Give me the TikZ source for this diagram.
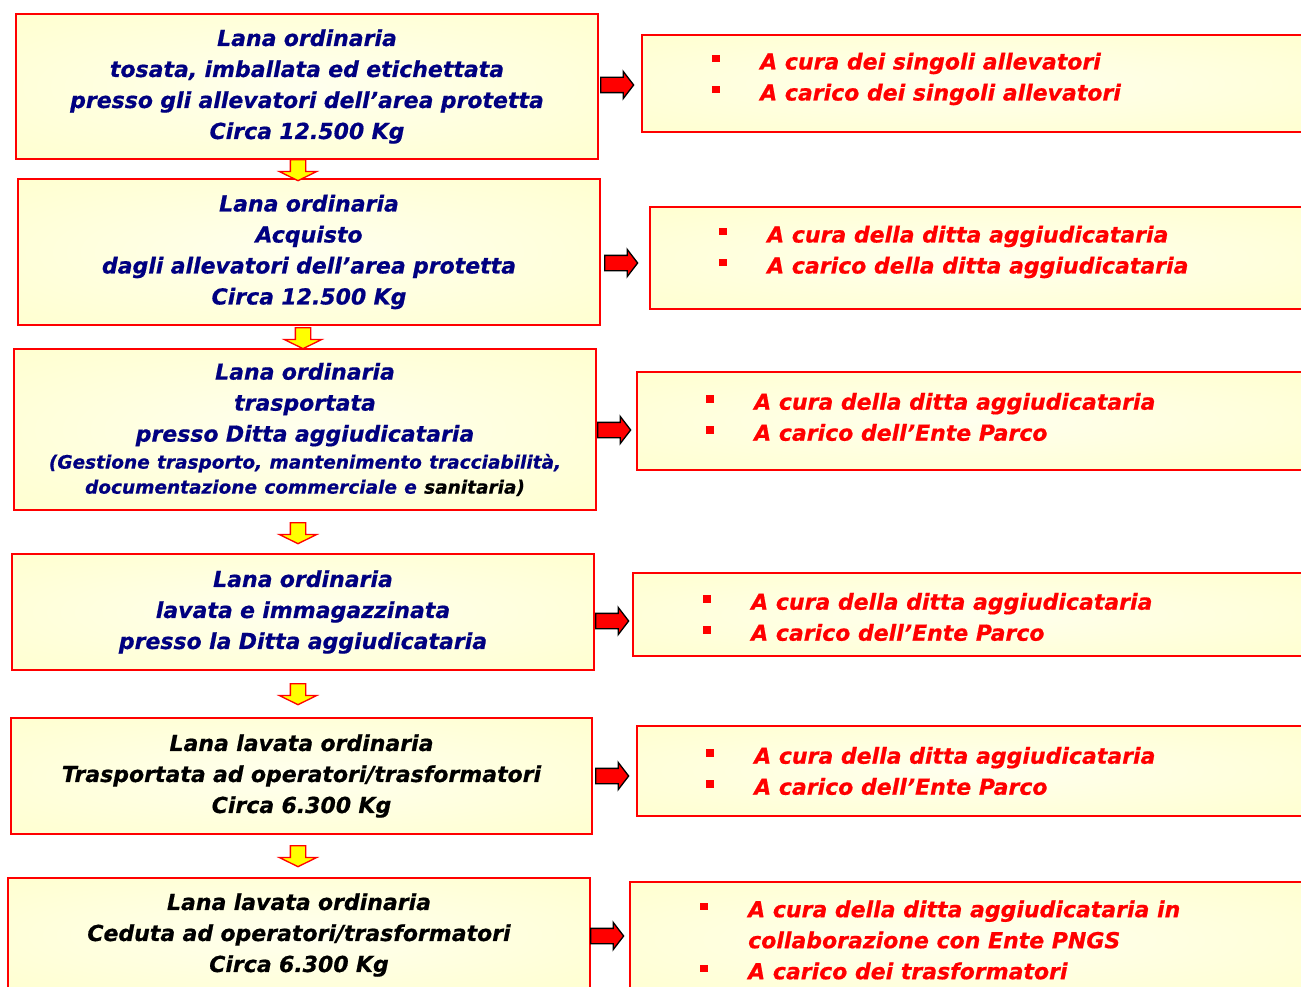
\documentclass[tikz,border=0pt]{standalone}
\usepackage{fontspec}
\setmainfont{DejaVu Sans}[BoldItalicFeatures={FakeBold=0.6}]
\usetikzlibrary{shapes.arrows}

\definecolor{blu}{RGB}{0,0,128}
\definecolor{rosso}{RGB}{255,0,0}
\definecolor{giallo}{RGB}{255,255,0}
\definecolor{crema}{RGB}{255,255,238}
\definecolor{giallino}{RGB}{255,255,196}
\pgfdeclareradialshading{pannello}{\pgfpoint{0bp}{0bp}}{color(0bp)=(crema); color(50bp)=(giallino)}

\tikzset{
  box/.style={rectangle, draw=rosso, line width=2pt, shading=pannello, anchor=north west, inner sep=0pt},
  fase/.style={box, align=center, font=\fontsize{22}{31}\selectfont\bfseries\itshape},
  nota/.style={anchor=west, align=left, inner sep=0pt, text=rosso, font=\fontsize{22}{31}\selectfont\bfseries\itshape},
  destra/.style={single arrow, draw=black, fill=rosso, line width=1.3pt, minimum height=33pt, minimum width=1pt,
    inner xsep=2pt, inner ysep=7pt, single arrow head extend=6pt, single arrow tip angle=105, anchor=tail},
  giu/.style={single arrow, draw=rosso, fill=giallo, line width=1.3pt, minimum height=21pt, minimum width=1pt,
    inner xsep=1pt, inner ysep=7pt, single arrow head extend=11pt, single arrow tip angle=128, rotate=-90, anchor=tail}
}
\newcommand{\pto}{\makebox[48pt][l]{\raisebox{7pt}{\rule{7.5pt}{7.5pt}}}}
\newcommand{\piccolo}{\fontsize{18.5}{25}\selectfont}

\begin{document}
\begin{tikzpicture}[x=1pt,y=-1pt]
\useasboundingbox (0,0) rectangle (1301,987);

% fasi
\node[fase, text=blu, minimum width=582pt, text width=582pt, minimum height=145pt] (l1) at (15,13)
  {Lana ordinaria\\ tosata, imballata ed etichettata\\ presso gli allevatori dell’area protetta\\ Circa 12.500 Kg};
\node[fase, text=blu, minimum width=582pt, text width=582pt, minimum height=146pt] (l2) at (17,178)
  {Lana ordinaria\\ Acquisto\\ dagli allevatori dell’area protetta\\ Circa 12.500 Kg};
\node[fase, text=blu, minimum width=582pt, text width=582pt, minimum height=161pt] (l3) at (13,348)
  {Lana ordinaria\\ trasportata\\ presso Ditta aggiudicataria\\[-4pt]
   {\piccolo (Gestione trasporto, mantenimento tracciabilità,}\\[-6pt]
   {\piccolo documentazione commerciale e \textcolor{black}{sanitaria)}}};
\node[fase, text=blu, minimum width=582pt, text width=582pt, minimum height=116pt] (l4) at (11,553)
  {Lana ordinaria\\ lavata e immagazzinata\\ presso la Ditta aggiudicataria};
\node[fase, text=black, minimum width=581pt, text width=581pt, minimum height=116pt] (l5) at (10,717)
  {Lana lavata ordinaria\\ Trasportata ad operatori/trasformatori\\ Circa 6.300 Kg};
\node[fase, text=black, minimum width=582pt, text width=582pt, minimum height=114pt] (l6) at (7,877)
  {Lana lavata ordinaria\\ Ceduta ad operatori/trasformatori\\ Circa 6.300 Kg};

% riquadri a destra
\node[box, minimum width=670pt, minimum height=97pt] (r1) at (641,34) {};
\node[box, minimum width=670pt, minimum height=102pt] (r2) at (649,206) {};
\node[box, minimum width=670pt, minimum height=98pt] (r3) at (636,371) {};
\node[box, minimum width=670pt, minimum height=83pt] (r4) at (632,572) {};
\node[box, minimum width=670pt, minimum height=90pt] (r5) at (636,725) {};
\node[box, minimum width=680pt, minimum height=115pt] (r6) at (629,881) {};

\node[nota] (t1) at (712,79) {\pto A cura dei singoli allevatori\\ \pto A carico dei singoli allevatori};
\node[nota] (t2) at (719,252) {\pto A cura della ditta aggiudicataria\\ \pto A carico della ditta aggiudicataria};
\node[nota] (t3) at (706,417) {\pto A cura della ditta aggiudicataria\\ \pto A carico dell’Ente Parco};
\node[nota] (t4) at (703,617) {\pto A cura della ditta aggiudicataria\\ \pto A carico dell’Ente Parco};
\node[nota] (t5) at (706,771) {\pto A cura della ditta aggiudicataria\\ \pto A carico dell’Ente Parco};
\node[nota] (t6) at (700,940) {\pto A cura della ditta aggiudicataria in\\ \hspace*{48pt}collaborazione con Ente PNGS\\ \pto A carico dei trasformatori};

% frecce
\node[destra] (a1) at (600,85) {};
\node[destra] (a2) at (604,263) {};
\node[destra] (a3) at (597,430) {};
\node[destra] (a4) at (595,621) {};
\node[destra] (a5) at (595,776) {};
\node[destra] (a6) at (590,936) {};

\node[giu] (d1) at (298,159) {};
\node[giu] (d2) at (303,327) {};
\node[giu] (d3) at (298,522) {};
\node[giu] (d4) at (298,683) {};
\node[giu] (d5) at (298,845) {};

\end{tikzpicture}
\end{document}
